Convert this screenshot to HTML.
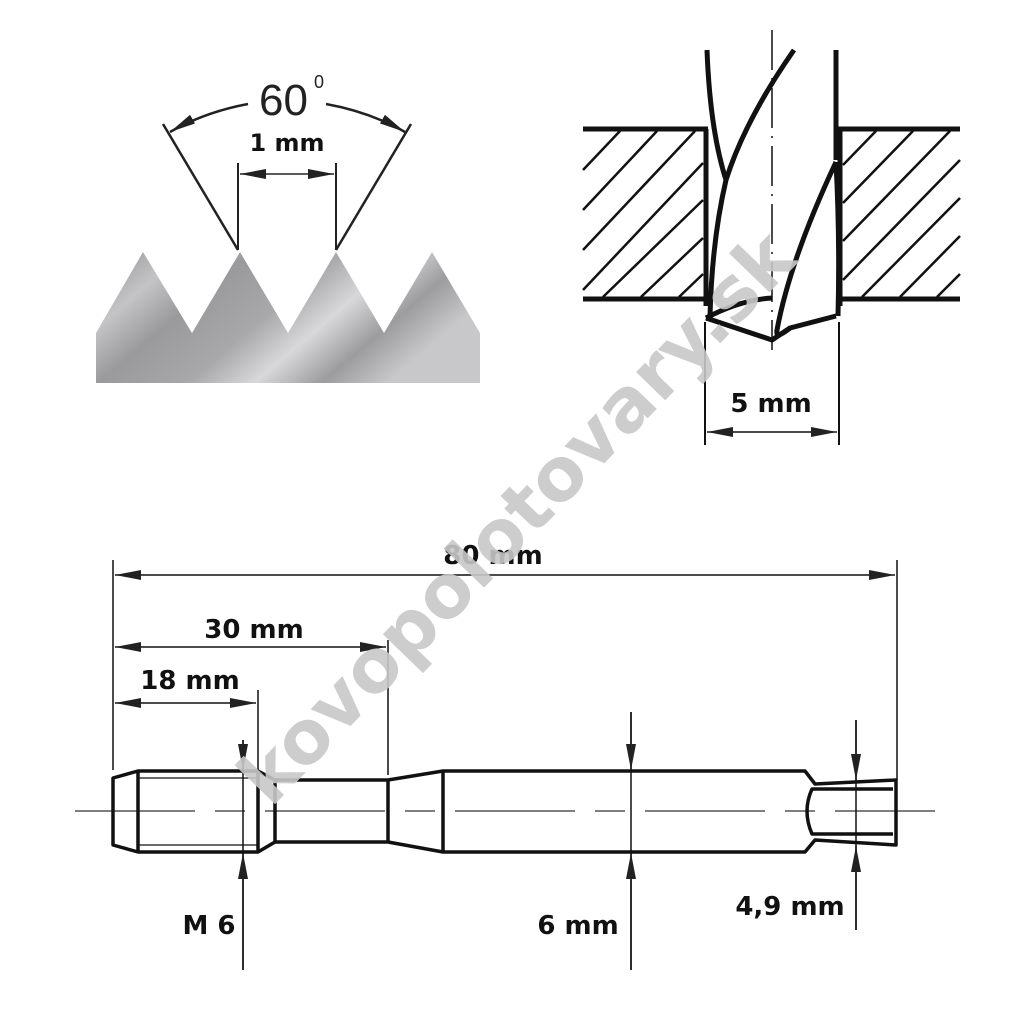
<!DOCTYPE html>
<html><head><style>body{margin:0;background:#fff}svg{display:block}text{font-family:"DejaVu Sans","Liberation Sans",sans-serif;font-weight:bold}</style></head>
<body>
<svg width="1024" height="1024" viewBox="0 0 1024 1024" xmlns="http://www.w3.org/2000/svg">
<defs>
<linearGradient id="g" x1="0" y1="0" x2="1" y2="0.4">
<stop offset="0" stop-color="#8e8e90"/><stop offset="0.2" stop-color="#c4c4c6"/><stop offset="0.35" stop-color="#9a9a9c"/><stop offset="0.55" stop-color="#a8a8aa"/><stop offset="0.7" stop-color="#d8d8da"/><stop offset="0.85" stop-color="#9c9c9e"/><stop offset="1" stop-color="#c8c8ca"/>
</linearGradient>
<marker id="b" markerWidth="26" markerHeight="10" refX="26" refY="5" orient="auto" markerUnits="userSpaceOnUse"><path d="M0,0L26,5L0,10z" fill="#222"/></marker>
</defs>
<path d="M96,333 L143,252 L192,333 L240,252 L288,333 L336,252 L384,333 L432,252 L480,333 L480,383 L96,383Z" fill="url(#g)"/>
<g stroke="#222" stroke-width="2.5" fill="none">
<line x1="238" y1="250" x2="163" y2="124"/><line x1="336" y1="250" x2="411" y2="124"/>
<line x1="238" y1="163" x2="238" y2="250" stroke-width="2"/><line x1="336" y1="163" x2="336" y2="250" stroke-width="2"/>
<path d="M248,104 Q205,112 170,132" marker-end="url(#b)"/>
<path d="M326,104 Q370,112 405,132" marker-end="url(#b)"/>
</g>
<line x1="287" y1="174" x2="240" y2="174" stroke="#222" stroke-width="1.5" marker-end="url(#b)"/>
<line x1="287" y1="174" x2="334" y2="174" stroke="#222" stroke-width="1.5" marker-end="url(#b)"/>
<text x="259" y="115" font-size="44" style="font-family:'Liberation Sans',sans-serif;font-weight:normal" fill="#222">60</text>
<text x="314" y="88" font-size="18" style="font-family:'Liberation Sans',sans-serif;font-weight:normal" fill="#222">0</text>
<text x="287" y="151" font-size="24" text-anchor="middle" fill="#111">1 mm</text>
<g stroke="#111" stroke-width="5" fill="none">
<line x1="583" y1="129" x2="708" y2="129"/><line x1="583" y1="299" x2="708" y2="299"/>
<line x1="836" y1="129" x2="960" y2="129"/><line x1="836" y1="299" x2="960" y2="299"/>
<line x1="706" y1="129" x2="706" y2="306"/><line x1="840" y1="129" x2="840" y2="306"/>
</g>
<g stroke="#111" stroke-width="2.5">
<line x1="583" y1="170" x2="620" y2="131"/><line x1="583" y1="210" x2="657" y2="131"/><line x1="583" y1="250" x2="695" y2="131"/><line x1="583" y1="290" x2="703" y2="163"/><line x1="603" y1="297" x2="703" y2="200"/><line x1="641" y1="297" x2="703" y2="238"/><line x1="679" y1="297" x2="703" y2="274"/>
<line x1="843" y1="165" x2="876" y2="131"/><line x1="843" y1="203" x2="913" y2="131"/><line x1="843" y1="241" x2="950" y2="131"/><line x1="843" y1="280" x2="960" y2="160"/><line x1="862" y1="297" x2="960" y2="198"/><line x1="900" y1="297" x2="960" y2="236"/><line x1="937" y1="297" x2="960" y2="274"/>
</g>
<g stroke="#111" stroke-width="5" fill="none" stroke-linejoin="round">
<path d="M707,50 Q710,130 726,180 Q712,240 710,316"/>
<line x1="836" y1="50" x2="836" y2="160"/>
<path d="M794,50 Q745,120 726,180"/>
<path d="M836,162 Q790,260 777,330 Q775,340 790,328 L836,316"/>
<path d="M836,162 Q840,240 838,316"/>
<path d="M706,318 L772,340 L790,328"/>
<path d="M706,318 Q740,300 772,298"/>
</g>
<line x1="772" y1="30" x2="772" y2="350" stroke="#111" stroke-width="1.5" stroke-dasharray="40,8,2,8"/>
<g stroke="#111" stroke-width="2"><line x1="705" y1="322" x2="705" y2="445"/><line x1="839" y1="322" x2="839" y2="445"/></g>
<line x1="772" y1="432" x2="707" y2="432" stroke="#111" stroke-width="1.5" marker-end="url(#b)"/>
<line x1="772" y1="432" x2="837" y2="432" stroke="#111" stroke-width="1.5" marker-end="url(#b)"/>
<text x="771" y="412" font-size="26" text-anchor="middle" fill="#111">5 mm</text>
<line x1="75" y1="811" x2="935" y2="811" stroke="#333" stroke-width="1.2" stroke-dasharray="120,20,30,20"/>
<g stroke="#111" stroke-width="3.5" fill="none" stroke-linejoin="round">
<path d="M113,778 L138,771 L258,771 L275,780 L275,842 L258,852 L138,852 L113,845Z"/>
<line x1="138" y1="771" x2="138" y2="852"/><line x1="258" y1="771" x2="258" y2="852"/>
<path d="M275,780 L388,780 L443,771 L805,771 L815,784 L896,780 L896,845 L815,840 L805,852 L443,852 L388,842 L275,842"/>
<line x1="388" y1="780" x2="388" y2="842"/><line x1="443" y1="771" x2="443" y2="852"/>
<path d="M893,789 L812,789 Q802,811 812,834 L893,834"/>
</g>
<g stroke="#111" stroke-width="1.3"><line x1="138" y1="778" x2="258" y2="778"/><line x1="138" y1="845" x2="258" y2="845"/></g>
<g stroke="#111" stroke-width="1.5">
<line x1="113" y1="560" x2="113" y2="770"/><line x1="897" y1="560" x2="897" y2="780"/>
<line x1="388" y1="640" x2="388" y2="775"/><line x1="258" y1="690" x2="258" y2="770"/>
<line x1="243" y1="740" x2="243" y2="970"/><line x1="631" y1="712" x2="631" y2="970"/><line x1="856" y1="720" x2="856" y2="930"/>
</g>
<g stroke="#111" stroke-width="1.5">
<line x1="505" y1="575" x2="115" y2="575" marker-end="url(#b)"/><line x1="505" y1="575" x2="895" y2="575" marker-end="url(#b)"/>
<line x1="250" y1="647" x2="115" y2="647" marker-end="url(#b)"/><line x1="250" y1="647" x2="386" y2="647" marker-end="url(#b)"/>
<line x1="185" y1="703" x2="115" y2="703" marker-end="url(#b)"/><line x1="185" y1="703" x2="256" y2="703" marker-end="url(#b)"/>
<line x1="243" y1="740" x2="243" y2="770" marker-end="url(#b)"/><line x1="243" y1="970" x2="243" y2="853" marker-end="url(#b)"/>
<line x1="631" y1="712" x2="631" y2="770" marker-end="url(#b)"/><line x1="631" y1="970" x2="631" y2="853" marker-end="url(#b)"/>
<line x1="856" y1="720" x2="856" y2="780" marker-end="url(#b)"/><line x1="856" y1="930" x2="856" y2="846" marker-end="url(#b)"/>
</g>
<g font-size="26" fill="#111">
<text x="493" y="564" text-anchor="middle">80 mm</text>
<text x="254" y="638" text-anchor="middle">30 mm</text>
<text x="190" y="689" text-anchor="middle">18 mm</text>
<text x="209" y="934" text-anchor="middle">M 6</text>
<text x="578" y="934" text-anchor="middle">6 mm</text>
<text x="790" y="915" text-anchor="middle">4,9 mm</text>
</g>
<text x="0" y="0" font-size="74" fill="#c8c8c8" fill-opacity="0.9" text-anchor="middle" transform="translate(535,535) rotate(-46)">kovopolotovary.sk</text>
</svg>
</body></html>
